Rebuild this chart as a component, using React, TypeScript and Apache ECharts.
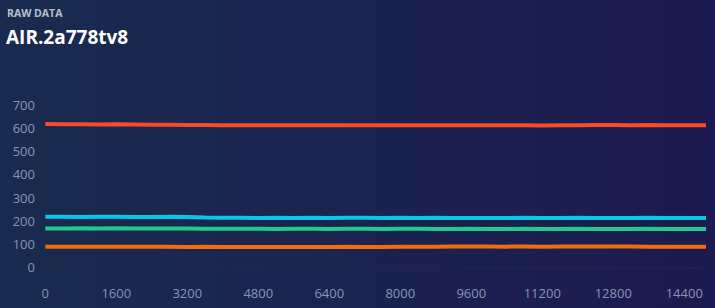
import React, { useEffect, useRef } from "react";
import * as echarts from "echarts";

const xValues = [0, 400, 800, 1200, 1600, 2000, 2400, 2800, 3200, 3600, 4000, 4400, 4800, 5200, 5600, 6000, 6400, 6800, 7200, 7600, 8000, 8400, 8800, 9200, 9600, 10000, 10400, 10800, 11200, 11600, 12000, 12400, 12800, 13200, 13600, 14000, 14400, 14800, 14890];

const redValues = [618, 617, 617, 616, 617, 616, 615, 615, 614, 614, 613, 613, 612, 613, 612, 612, 613, 612, 612, 612, 613, 612, 612, 612, 613, 612, 612, 612, 611, 612, 613, 614, 614, 613, 614, 613, 612, 612, 612];
const cyanValues = [217, 217, 216, 217, 217, 216, 216, 217, 216, 214, 213, 213, 212, 213, 212, 213, 212, 213, 213, 212, 213, 212, 213, 212, 212, 212, 212, 213, 212, 212, 213, 212, 212, 212, 213, 212, 212, 212, 212];
const greenValues = [166, 166, 167, 166, 167, 166, 166, 166, 166, 165, 165, 165, 165, 164, 165, 165, 164, 165, 165, 164, 165, 165, 164, 164, 165, 164, 164, 165, 164, 164, 165, 164, 164, 164, 165, 164, 164, 164, 164];
const orangeValues = [88, 88, 87, 88, 87, 87, 87, 87, 86, 87, 86, 86, 86, 86, 86, 86, 86, 87, 86, 86, 87, 87, 88, 89, 89, 89, 88, 89, 88, 89, 89, 89, 89, 89, 88, 88, 88, 88, 88];

const xLabelValues = [0, 1600, 3200, 4800, 6400, 8000, 9600, 11200, 12800, 14400];

const seriesNames = ["Red", "Cyan", "Green", "Orange"];
const seriesColors = ["#fb4a26", "#0cc6e8", "#1ecb8b", "#f06c0c"];
const seriesValues = [redValues, cyanValues, greenValues, orangeValues];

const FONT = "'Open Sans', 'Noto Sans', sans-serif";

export default function App() {
  const ref = useRef<HTMLDivElement>(null);
  useEffect(() => {
    document.body.style.margin = "0";
    if (!ref.current) return;
    const chart = echarts.init(ref.current, undefined, { renderer: "svg" });
    chart.setOption({
      animation: false,
      backgroundColor: new echarts.graphic.LinearGradient(0, 0, 1, 0, [
        { offset: 0, color: "#1a2b4f" },
        { offset: 1, color: "#1c1a50" },
      ]),
      textStyle: { fontFamily: FONT },
      graphic: [
        {
          type: "text",
          left: 7,
          top: 7,
          style: {
            text: "RAW DATA",
            fill: "#b9c0cc",
            font: `bold 10.5px ${FONT}`,
          },
        },
        {
          type: "text",
          left: 6,
          top: 27,
          style: {
            text: "AIR.2a778tv8",
            fill: "#ffffff",
            font: `bold 19px ${FONT}`,
          },
        },
      ],
      grid: { left: 37, right: 9, top: 105, bottom: 41, containLabel: false },
      xAxis: {
        type: "value",
        min: -187,
        max: 14890,
        axisLine: { show: true, lineStyle: { color: "#23283a", width: 1 } },
        axisTick: { show: false },
        splitLine: { show: false },
        axisLabel: {
          customValues: xLabelValues,
          formatter: (v: number) => String(v),
          color: "#8797b3",
          fontSize: 13,
          fontFamily: FONT,
          margin: 19,
        },
      },
      yAxis: {
        type: "value",
        min: 0,
        max: 700,
        interval: 100,
        axisLine: { show: false },
        axisTick: { show: false },
        splitLine: { show: false },
        axisLabel: {
          color: "#8797b3",
          fontSize: 13,
          fontFamily: FONT,
          margin: 2,
        },
      },
      series: seriesValues.map((vals, i) => ({
        name: seriesNames[i],
        type: "line",
        data: xValues.map((x, j) => [x, vals[j]]),
        showSymbol: false,
        symbol: "none",
        lineStyle: { color: seriesColors[i], width: 4 },
        itemStyle: { color: seriesColors[i] },
      })),
    });
    return () => chart.dispose();
  }, []);
  return <div ref={ref} style={{ width: 715, height: 308 }} />;
}
